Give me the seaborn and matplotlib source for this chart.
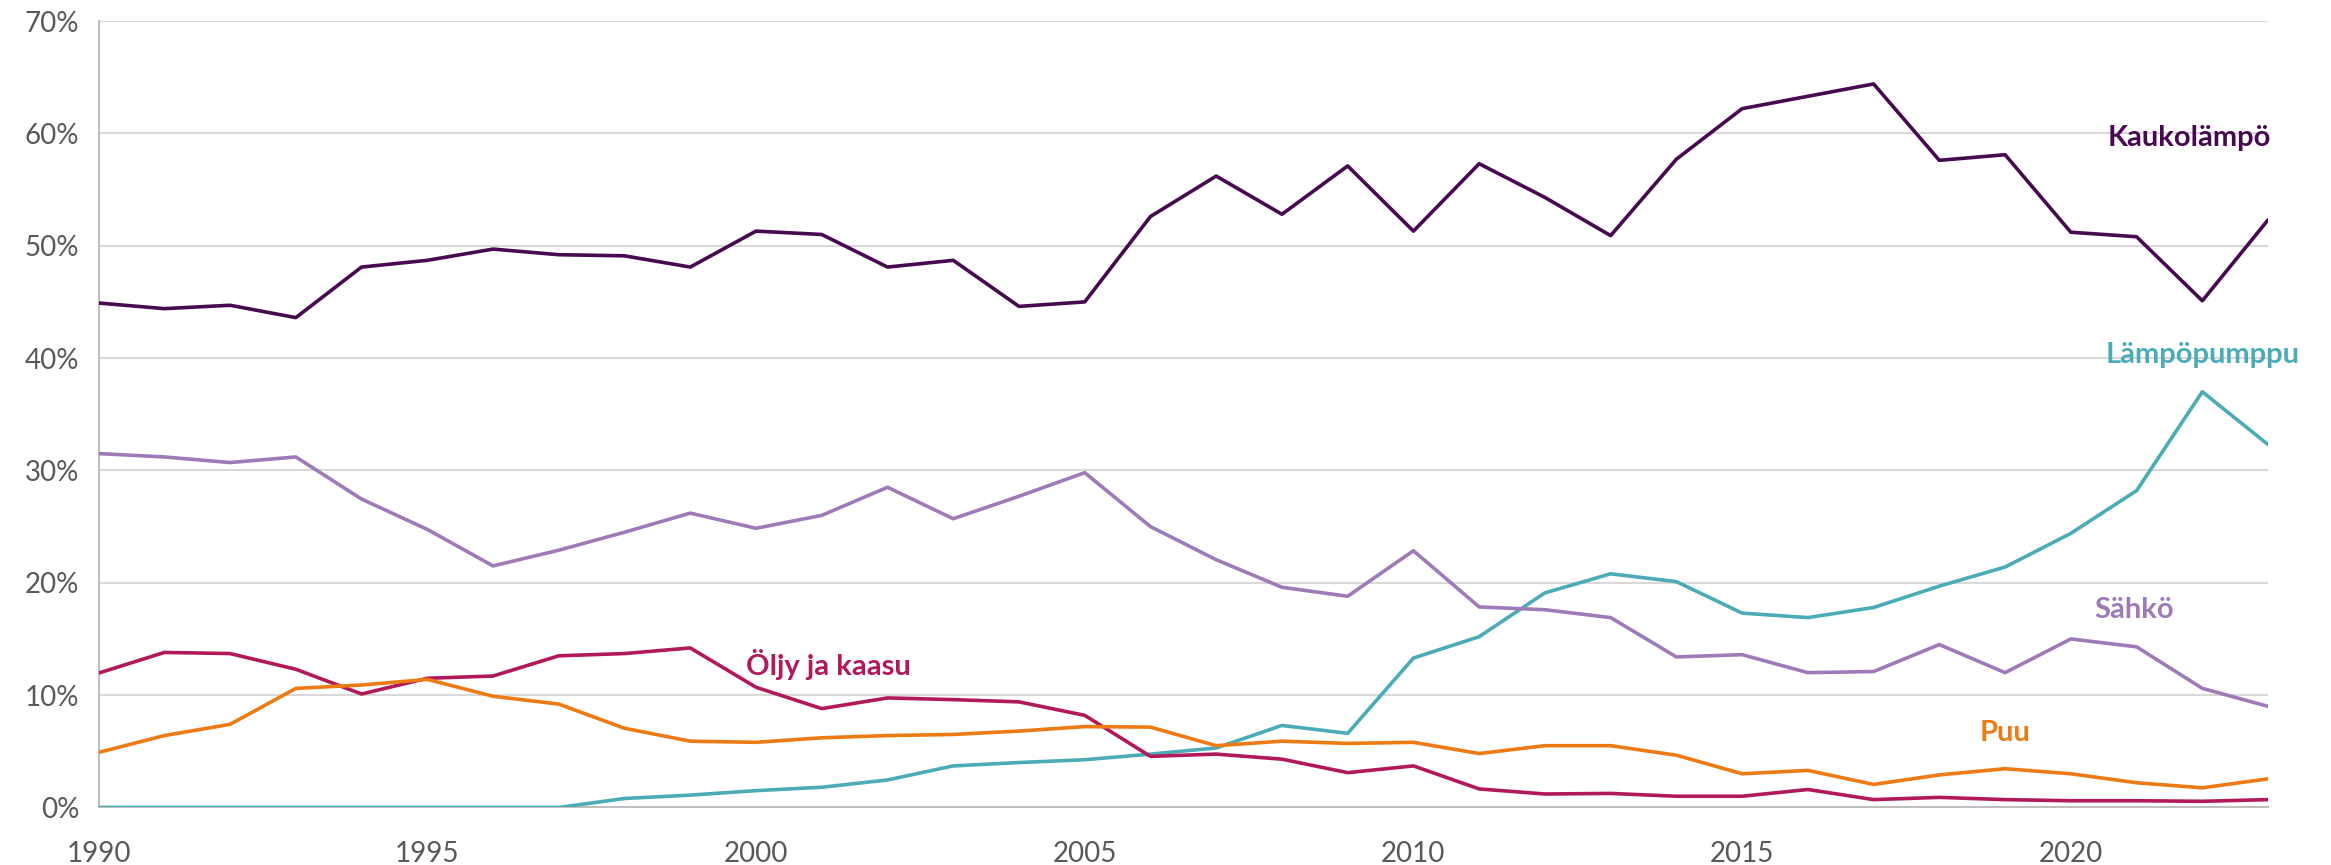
import numpy as np
import pandas as pd
import matplotlib
matplotlib.use("Agg")
import matplotlib.pyplot as plt
import seaborn as sns

years = list(range(1990, 2024))

kaukolampo = [44.9, 44.4, 44.7, 43.6, 48.1, 48.7, 49.7, 49.2, 49.1, 48.1,
              51.3, 51.0, 48.1, 48.7, 44.6, 45.0, 52.6, 56.2, 52.8, 57.1,
              51.3, 57.3, 54.3, 50.9, 57.7, 62.2, 63.3, 64.4, 57.6, 58.1,
              51.2, 50.8, 45.1, 52.3]
lampopumppu = [0.0, 0.0, 0.0, 0.0, 0.0, 0.0, 0.0, 0.0, 0.8, 1.1,
               1.5, 1.8, 2.45, 3.7, 4.0, 4.25, 4.75, 5.3, 7.3, 6.6,
               13.3, 15.2, 19.1, 20.8, 20.1, 17.3, 16.9, 17.8, 19.7, 21.4,
               24.4, 28.2, 37.0, 32.3]
sahko = [31.5, 31.2, 30.7, 31.2, 27.45, 24.75, 21.5, 22.9, 24.5, 26.2,
         24.85, 26.0, 28.5, 25.7, 27.7, 29.8, 25.0, 22.05, 19.6, 18.8,
         22.85, 17.85, 17.6, 16.9, 13.4, 13.6, 12.0, 12.1, 14.5, 12.0,
         15.0, 14.3, 10.6, 9.0]
oljy = [11.96, 13.8, 13.7, 12.3, 10.1, 11.5, 11.7, 13.5, 13.7, 14.2,
        10.7, 8.8, 9.75, 9.6, 9.4, 8.2, 4.55, 4.75, 4.3, 3.1,
        3.7, 1.65, 1.2, 1.25, 1.0, 1.0, 1.6, 0.7, 0.9, 0.7,
        0.6, 0.6, 0.55, 0.7]
puu = [4.9, 6.4, 7.4, 10.6, 10.9, 11.4, 9.9, 9.2, 7.05, 5.9,
       5.8, 6.2, 6.4, 6.5, 6.8, 7.2, 7.15, 5.5, 5.9, 5.7,
       5.8, 4.8, 5.5, 5.5, 4.65, 3.0, 3.3, 2.05, 2.9, 3.45,
       3.0, 2.2, 1.75, 2.55]

series_names = ["Kaukolämpö", "Lämpöpumppu", "Sähkö", "Öljy ja kaasu", "Puu"]
series_values = [kaukolampo, lampopumppu, sahko, oljy, puu]
colors = {"Kaukolämpö": "#470A50", "Lämpöpumppu": "#4BACB8", "Sähkö": "#9E7BB8",
          "Öljy ja kaasu": "#B2195A", "Puu": "#EE7A14"}

x_ticks = [1990, 1995, 2000, 2005, 2010, 2015, 2020]
y_ticks = [0, 10, 20, 30, 40, 50, 60, 70]
y_tick_labels = [f"{v}%" for v in y_ticks]

label_pos = {"Kaukolämpö": (2021.8, 59.6), "Lämpöpumppu": (2022.0, 40.3),
             "Sähkö": (2020.97, 17.6), "Öljy ja kaasu": (2001.1, 12.75),
             "Puu": (2019.0, 6.6)}

rows = []
for name, vals in zip(series_names, series_values):
    for y, v in zip(years, vals):
        rows.append({"Vuosi": y, "Osuus": v, "Lähde": name})
df = pd.DataFrame(rows)

sns.set_theme(style="white")
plt.rcParams["font.family"] = ["Lato", "DejaVu Sans"]

fig = plt.figure(figsize=(23.31, 8.65), dpi=100)
ax = fig.add_axes([0.0423, 0.0665, 0.9307, 0.9092])

for y in y_ticks[1:]:
    ax.axhline(y, color="#D9D9D9", lw=1.5, zorder=0)

sns.lineplot(data=df, x="Vuosi", y="Osuus", hue="Lähde", hue_order=series_names,
             palette=colors, linewidth=2.6, legend=False, ax=ax, zorder=3)

ax.set_xlim(1990, 2023)
ax.set_ylim(0, 70)
ax.set_xticks(x_ticks)
ax.set_xticklabels([str(t) for t in x_ticks])
ax.set_yticks(y_ticks)
ax.set_yticklabels(y_tick_labels)
ax.set_xlabel("")
ax.set_ylabel("")
ax.tick_params(axis="both", labelsize=20, colors="#595959", length=0)
ax.tick_params(axis="x", pad=24)
ax.tick_params(axis="y", pad=14)

for s in ["top", "right"]:
    ax.spines[s].set_visible(False)
ax.spines["left"].set_color("#BFBFBF")
ax.spines["left"].set_linewidth(1.5)
ax.spines["bottom"].set_color("#BFBFBF")
ax.spines["bottom"].set_linewidth(1.5)

for name in series_names:
    xx, yy = label_pos[name]
    ax.text(xx, yy, name, color=colors[name], fontsize=21, fontweight="bold",
            ha="center", va="center", zorder=5)

fig.savefig("out.png", dpi=100)
